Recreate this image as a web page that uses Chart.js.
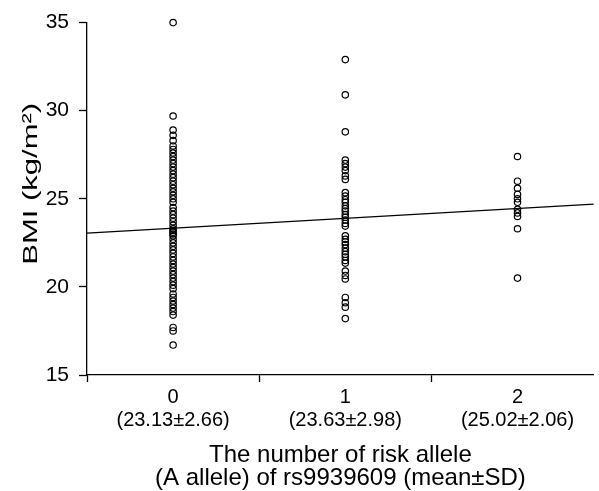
<!DOCTYPE html>
<html>
<head>
<meta charset="utf-8">
<script src="https://cdn.jsdelivr.net/npm/chart.js@4.4.1/dist/chart.umd.min.js"></script>
<style>
  html, body { margin: 0; padding: 0; background: #fff; }
  #wrap { width: 599px; height: 491px; position: relative; }
</style>
</head>
<body>
<div id="wrap"><canvas id="chart"></canvas></div>
<script>
// Categories (number of risk alleles) and their mean±SD labels
const categories = [0, 1, 2];
const meanSdLabels = ['(23.13±2.66)', '(23.63±2.98)', '(25.02±2.06)'];

// BMI values per group
const bmiGroup0 = [
    35.0, 29.7, 28.9, 28.6, 28.3, 28.0, 27.8, 27.6, 27.4, 27.2, 27.0, 26.8,
    26.6, 26.4, 26.2, 26.0, 25.8, 25.6, 25.4, 25.2, 25.0, 24.8, 24.5, 24.3,
    24.1, 23.9, 23.7, 23.5, 23.3, 23.2, 23.1, 23.0, 22.9, 22.7, 22.5, 22.3,
    22.1, 21.9, 21.7, 21.5, 21.3, 21.1, 20.9, 20.7, 20.5, 20.3, 20.1, 19.9,
    19.6, 19.4, 19.2, 19.0, 18.8, 18.6, 18.4, 17.7, 17.5, 16.7
];
const bmiGroup1 = [
    32.9, 30.9, 28.8, 27.2, 27.0, 26.8, 26.6, 26.3, 26.1, 25.35, 25.15,
    24.95, 24.8, 24.6, 24.45, 24.3, 24.1, 23.95, 23.8, 23.6, 23.45,
    22.9, 22.7, 22.55, 22.4, 22.2, 22.0, 21.85, 21.7, 21.5, 21.35,
    20.9, 20.65, 20.45, 19.4, 19.1, 18.85, 18.2
];
const bmiGroup2 = [27.4, 26.0, 25.6, 25.25, 25.0, 24.8, 24.4, 24.2, 24.0, 23.3, 20.5];

// Fitted regression line end points (x in allele count, y in BMI)
const trendX = [-0.5, 2.443];
const trendY = [23.05, 24.70];

// Axis ranges, ticks and titles
const xMin = -0.5, xMax = 2.443;
const xTickValues = [-0.5, 0, 0.5, 1, 1.5, 2];
const yMin = 15, yMax = 35, yStep = 5;
const xTitle = ['The number of risk allele', '(A allele) of rs9939609 (mean±SD)'];
const yTitle = 'BMI (kg/m²)';

const FONT = "'Liberation Sans', Arial, sans-serif";

const groups = [bmiGroup0, bmiGroup1, bmiGroup2];
const points = [];
groups.forEach((vals, i) => {
    vals.forEach(v => points.push({ x: categories[i], y: v }));
});

// The y title in the figure is drawn a bit stretched along its baseline
const yTitlePlugin = {
    id: 'yTitle',
    afterDraw(chart) {
        const { ctx, chartArea } = chart;
        ctx.save();
        ctx.font = '21px ' + FONT;
        ctx.fillStyle = '#000';
        ctx.textAlign = 'center';
        ctx.textBaseline = 'middle';
        const w = ctx.measureText(yTitle).width;
        const stretch = 162 / w;
        ctx.translate(31, (chartArea.top + chartArea.bottom) / 2 - 15);
        ctx.rotate(-Math.PI / 2);
        ctx.scale(stretch, 1);
        ctx.fillText(yTitle, 0, 0);
        ctx.restore();
    }
};

const ctx = document.getElementById('chart');
new Chart(ctx, {
    type: 'scatter',
    data: {
        datasets: [
            {
                label: 'BMI',
                data: points,
                clip: false,
                pointRadius: 3.2,
                pointBorderWidth: 1.2,
                pointBorderColor: '#000',
                pointBackgroundColor: 'rgba(0,0,0,0)'
            },
            {
                type: 'line',
                label: 'Trend',
                data: trendX.map((x, i) => ({ x: x, y: trendY[i] })),
                borderColor: '#000',
                borderWidth: 1.2,
                pointRadius: 0,
                fill: false
            }
        ]
    },
    plugins: [yTitlePlugin],
    options: {
        responsive: true,
        maintainAspectRatio: false,
        animation: false,
        layout: { padding: { top: 22, right: 0, left: 0, bottom: 0 } },
        plugins: {
            legend: { display: false },
            tooltip: { enabled: false }
        },
        scales: {
            x: {
                type: 'linear',
                min: xMin,
                max: xMax,
                afterBuildTicks: (axis) => {
                    axis.ticks = xTickValues.map(v => ({ value: v }));
                },
                afterFit: (axis) => { axis.height = 116; },
                border: { color: '#000', width: 1.3 },
                grid: {
                    drawOnChartArea: false,
                    drawTicks: true,
                    tickLength: 7,
                    tickWidth: 1.3,
                    tickColor: (c) => (c.tick && Number.isInteger(c.tick.value)) ? 'rgba(0,0,0,0)' : '#000'
                },
                ticks: {
                    color: '#000',
                    padding: 4,
                    maxRotation: 0,
                    autoSkip: false,
                    font: { family: FONT, size: 20, lineHeight: 1.15 },
                    callback: (v) => {
                        const i = categories.indexOf(v);
                        return i >= 0 ? [String(categories[i]), meanSdLabels[i]] : '';
                    }
                },
                title: {
                    display: true,
                    text: xTitle,
                    color: '#000',
                    font: { family: FONT, size: 24, lineHeight: 0.95 },
                    padding: { top: 0, bottom: 1 }
                }
            },
            y: {
                min: yMin,
                max: yMax,
                afterFit: (axis) => { axis.width = 87; },
                border: { color: '#000', width: 1.3 },
                grid: {
                    drawOnChartArea: false,
                    drawTicks: true,
                    tickLength: 8,
                    tickWidth: 1.3,
                    tickColor: '#000'
                },
                ticks: {
                    stepSize: yStep,
                    color: '#000',
                    padding: 10,
                    font: { family: FONT, size: 21 }
                }
            }
        }
    }
});
</script>
</body>
</html>
